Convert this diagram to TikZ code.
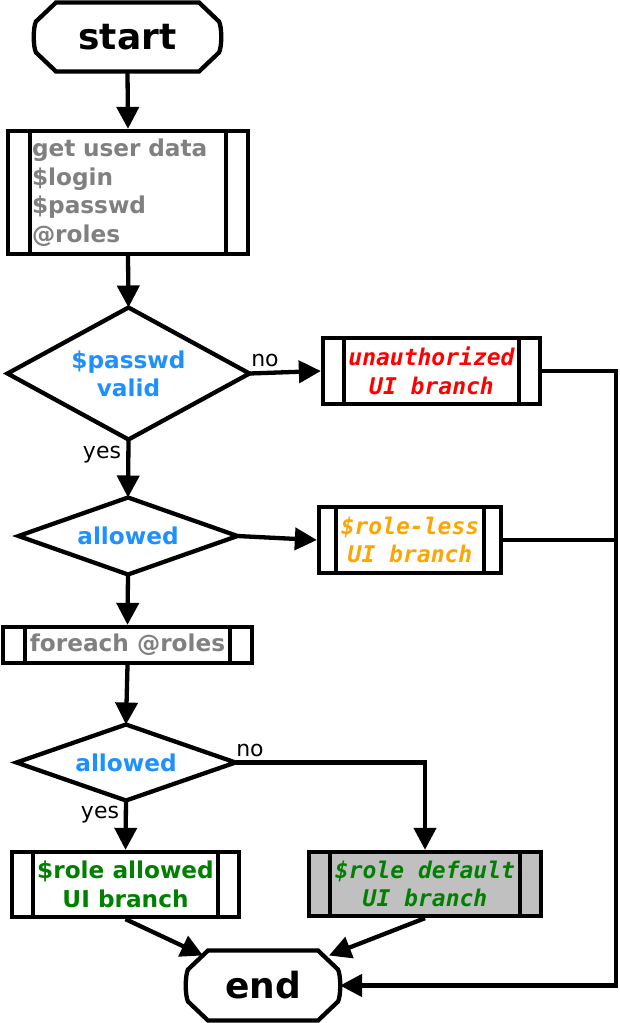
\documentclass[tikz,border=0pt]{standalone}
\usepackage{fontspec}
\setmainfont{DejaVu Sans}
\newfontfamily\monofont{DejaVu Sans Mono}
\usetikzlibrary{shapes.geometric,arrows.meta,calc}
\definecolor{dblue}{RGB}{30,144,255}
\definecolor{dgreen}{RGB}{0,128,0}
\definecolor{dorange}{RGB}{255,165,0}
\definecolor{dred}{RGB}{255,0,0}
\definecolor{dgray}{RGB}{128,128,128}
\definecolor{boxgray}{RGB}{192,192,192}
\newcommand\sidebars[2]{%
  \draw ([xshift=#2]#1.north west) -- ([xshift=#2]#1.south west);
  \draw ([xshift=-#2]#1.north east) -- ([xshift=-#2]#1.south east);}
\newcommand\diamondshape[1]{%
  \draw[fill=white] (#1.north) -- (#1.east) -- (#1.south) -- (#1.west) -- cycle;}
\newcommand\termshape[1]{%
  \draw ([xshift=22pt]#1.north west) -- ([xshift=-22pt]#1.north east)
    -- ([xshift=-2pt,yshift=-19pt]#1.north east)
    .. controls ([xshift=1pt,yshift=10pt]#1.east) and ([xshift=1pt,yshift=-10pt]#1.east) ..
    ([xshift=-2pt,yshift=19pt]#1.south east)
    -- ([xshift=-22pt]#1.south east) -- ([xshift=22pt]#1.south west)
    -- ([xshift=2pt,yshift=19pt]#1.south west)
    .. controls ([xshift=-1pt,yshift=-10pt]#1.west) and ([xshift=-1pt,yshift=10pt]#1.west) ..
    ([xshift=2pt,yshift=-19pt]#1.north west) -- cycle;}
\begin{document}
\begin{tikzpicture}[x=1pt,y=-1pt,line width=4.3pt,
  every node/.style={inner sep=0pt},
  termnode/.style={rectangle,outer sep=0pt,font=\fontsize{36}{36}\selectfont\bfseries},
  procbox/.style={draw,rectangle,fill=white},
  decision/.style={rectangle,outer sep=0pt,text=dblue,align=center,
    font=\fontsize{23.2}{28}\selectfont\bfseries},
  lbl/.style={font=\fontsize{22}{22}\selectfont},
  sanslab/.style={align=center,font=\fontsize{23.2}{28.5}\selectfont\bfseries},
  monolab/.style={align=center,font=\fontsize{23}{28.5}\selectfont\monofont\bfseries\itshape},
  arr/.style={-{Triangle[length=22pt,width=22pt]}}]
\useasboundingbox (0,0) rectangle (619,1023);

\node[termnode,minimum width=187pt,minimum height=69pt] (start) at (127.5,37) {};
\termshape{start}
\node[termnode] at (start) {start};

\node[procbox,minimum width=240pt,minimum height=123pt,sanslab,text width=192pt,align=left,text=dgray]
  (data) at (128,192.5) {get user data\\\$login\\\$passwd\\@roles};
\sidebars{data}{24pt}

\node[decision,minimum width=242pt,minimum height=132pt] (d1) at (128.5,373.5) {};
\diamondshape{d1}
\node[decision] at (d1) {\$passwd\\valid};
\node[lbl] (no1) at (265,360) {no};

\node[procbox,minimum width=217pt,minimum height=66pt,monolab,text=dred] (unauth) at (431.5,371) {unauthorized\\UI branch};
\sidebars{unauth}{23pt}

\node[lbl] (yes1) at (102,455) {yes};

\node[decision,minimum width=219pt,minimum height=77pt] (d2) at (128,536) {};
\diamondshape{d2}
\node[decision] at (d2) {allowed};

\node[procbox,minimum width=182pt,minimum height=66pt,monolab,text=dorange] (roleless) at (410,540) {\$role-less\\UI branch};
\sidebars{roleless}{19pt}

\node[procbox,minimum width=249pt,minimum height=36pt,sanslab,text=dgray] (foreach) at (127.5,645) {foreach @roles};
\sidebars{foreach}{24pt}

\node[decision,minimum width=219pt,minimum height=76pt] (d3) at (126,762.5) {};
\diamondshape{d3}
\node[decision] at (d3) {allowed};
\node[lbl] (no2) at (250,750) {no};
\node[lbl] (yes2) at (100,815) {yes};

\node[procbox,minimum width=227pt,minimum height=65pt,sanslab,text=dgreen] (rallow) at (125.5,884.5) {\$role allowed\\UI branch};
\sidebars{rallow}{23pt}

\node[procbox,fill=boxgray,minimum width=232pt,minimum height=64pt,monolab,text=dgreen] (rdefault) at (425,884) {\$role default\\UI branch};
\sidebars{rdefault}{23pt}

\node[termnode,minimum width=154pt,minimum height=70pt] (end) at (263,985.5) {};
\termshape{end}
\node[termnode] at (end) {end};

\coordinate (rx) at (616,0);

\draw[arr] (start.south) -- (data.north);
\draw[arr] (data.south) -- (d1.north);
\draw[arr] (d1.east) -- (unauth.west);
\draw[arr] (d1.south) -- (d2.north);
\draw[arr] (d2.east) -- (roleless.west);
\draw[arr] (d2.south) -- (foreach.north);
\draw[arr] (foreach.south) -- (d3.north);
\draw[arr] (d3.south) -- (rallow.north);
\draw[arr] (d3.east) -| (rdefault.north);
\draw[arr] (rallow.south) -- ([xshift=17pt,yshift=-5pt]end.north west);
\draw[arr] (rdefault.south) -- ([xshift=-11pt,yshift=-5pt]end.north east);
\draw[arr] (unauth.east) -| (rx |- end.east) -- (end.east);
\draw (roleless.east) -- (roleless.east -| rx);
\end{tikzpicture}
\end{document}
